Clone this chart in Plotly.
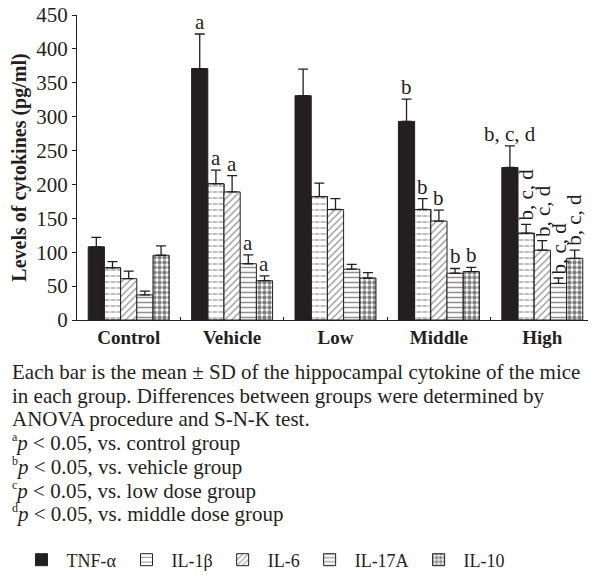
import plotly.graph_objects as go

groups = ["Control", "Vehicle", "Low", "Middle", "High"]
series_names = ["TNF-α", "IL-1β", "IL-6", "IL-17A", "IL-10"]
tnf = [108, 371, 331, 293, 225]
tnf_sd = [14, 51, 39, 33, 32]
il1b = [77, 201, 182, 163, 128]
il1b_sd = [9, 20, 20, 16, 13]
il6 = [61, 189, 163, 146, 103]
il6_sd = [11, 24, 16, 16, 14]
il17a = [37, 83, 75, 69, 54]
il17a_sd = [5.5, 13, 7, 7, 8]
il10 = [95.5, 58, 62, 71.5, 91]
il10_sd = [14, 7, 8, 6, 12]
tnf_sig = ["", "a", "", "b", "b, c, d"]
il1b_sig = ["", "a", "", "b", "b, c, d"]
il6_sig = ["", "a", "", "b", "b, c, d"]
il17a_sig = ["", "a", "", "b", "b, c, d"]
il10_sig = ["", "a", "", "b", "b, c, d"]
y_ticks = [0, 50, 100, 150, 200, 250, 300, 350, 400, 450]
SUP = "<sup><span style='font-size:12px'>{}</span></sup>"
caption_lines = [
    "Each bar is the mean ± SD of the hippocampal cytokine of the mice",
    "in each group. Differences between groups were determined by",
    "ANOVA procedure and S-N-K test.",
    SUP.format("a") + "<i>p</i> &lt; 0.05, vs. control group",
    SUP.format("b") + "<i>p</i> &lt; 0.05, vs. vehicle group",
    SUP.format("c") + "<i>p</i> &lt; 0.05, vs. low dose group",
    SUP.format("d") + "<i>p</i> &lt; 0.05, vs. middle dose group",
]

INK = "#231f20"
FONT = "'Liberation Serif', 'Times New Roman', 'DejaVu Serif', serif"
values = [tnf, il1b, il6, il17a, il10]
sds = [tnf_sd, il1b_sd, il6_sd, il17a_sd, il10_sd]
sigs = [tnf_sig, il1b_sig, il6_sig, il17a_sig, il10_sig]
patterns = [
    dict(shape=""),
    dict(shape="-", fgcolor=INK, bgcolor="white", size=6, solidity=0.2),
    dict(shape="/", fgcolor=INK, bgcolor="white", size=5, solidity=0.25),
    dict(shape="-", fgcolor=INK, bgcolor="white", size=5, solidity=0.3),
    dict(shape=".", fgcolor="black", bgcolor="white", size=5, solidity=0.6),
]
bargap = 0.217

# the page body has an 8px margin, so the figure is laid out 8px up/left of page pixels
PAGE_OFF = 8
fig_w, fig_h = 596 - PAGE_OFF, 575 - PAGE_OFF
plot_l, plot_t, plot_w, plot_h = 77 - PAGE_OFF, 15 - PAGE_OFF, 517, 305


def px_x(page_x):
    return (page_x - PAGE_OFF - plot_l) / plot_w


def px_y(page_y):
    return (plot_t + plot_h - (page_y - PAGE_OFF)) / plot_h


fig = go.Figure()
for k, (name, v, sd, pat) in enumerate(zip(series_names, values, sds, patterns)):
    fig.add_trace(go.Bar(
        x=groups, y=v, name=name, offsetgroup=str(k),
        marker=dict(color=INK if k == 0 else "white", pattern=pat,
                    line=dict(color=INK, width=1)),
        error_y=dict(type="data", symmetric=False, array=sd, arrayminus=[0] * len(sd),
                     color=INK, thickness=1.3, width=5),
    ))
    if k == 1:
        # white vertical breaks turn the horizontal lines into short dashes
        fig.add_trace(go.Bar(
            x=groups, y=v, name=name, offsetgroup=str(k), showlegend=False,
            hoverinfo="skip",
            marker=dict(color="rgba(0,0,0,0)",
                        pattern=dict(shape="|", fgcolor="white", bgcolor="rgba(0,0,0,0)",
                                     size=6, solidity=0.4),
                        line=dict(color=INK, width=1)),
        ))

slot = (1 - bargap) / len(series_names)
for k, (v, sd, sig) in enumerate(zip(values, sds, sigs)):
    for i, s in enumerate(sig):
        if not s:
            continue
        xpos = i + (k - (len(series_names) - 1) / 2) * slot
        rotated = (k > 0 and len(s) > 1)
        fig.add_annotation(
            x=xpos, y=v[i] + sd[i], xref="x", yref="y", text=s, showarrow=False,
            textangle=-90 if rotated else 0,
            xanchor="center", yanchor="middle" if rotated else "bottom",
            yshift=30 if rotated else -2,
            font=dict(family=FONT, size=21, color=INK),
        )

# caption lines, one annotation per line (tight line spacing as in the reference)
for j, line in enumerate(caption_lines):
    fig.add_annotation(
        xref="paper", yref="paper", x=px_x(11), y=px_y(372 + 23.6 * j),
        xanchor="left", yanchor="middle", align="left", showarrow=False, text=line,
        font=dict(family=FONT, size=21, color=INK), borderpad=0,
    )

fig.update_layout(
    width=fig_w, height=fig_h,
    margin=dict(l=plot_l, r=fig_w - plot_l - plot_w, t=plot_t, b=fig_h - plot_t - plot_h,
                autoexpand=False),
    paper_bgcolor="white", plot_bgcolor="white",
    barmode="group", bargap=bargap, bargroupgap=0,
    font=dict(family=FONT, size=19, color=INK),
    showlegend=True,
    legend=dict(orientation="h", x=px_x(16.5), xanchor="left",
                y=px_y(560), yanchor="middle",
                font=dict(family=FONT, size=18, color=INK), itemwidth=40,
                traceorder="normal"),
    xaxis=dict(type="category", showline=True, linecolor=INK, linewidth=1.3,
               ticks="inside", tickson="boundaries", ticklen=3, tickcolor=INK,
               tickfont=dict(family=FONT, size=19, color=INK, weight="bold"),
               range=[-0.5, 4.5], showgrid=False, zeroline=False, automargin=False),
    yaxis=dict(range=[0, 450], tickvals=y_ticks, showline=True, linecolor=INK, linewidth=1.3,
               ticks="outside", ticklen=4, tickcolor=INK, showgrid=False, zeroline=False,
               tickfont=dict(family=FONT, size=21, color=INK), automargin=False,
               ticklabeloverflow="allow",
               title=dict(text="<b>Levels of cytokines (pg/ml)</b>", standoff=6,
                          font=dict(family=FONT, size=20, color=INK))),
)

fig.write_html("out.html")
